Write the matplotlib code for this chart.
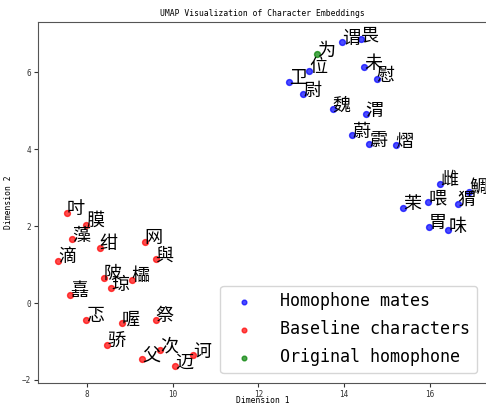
import numpy as np
import matplotlib
matplotlib.use("Agg")
import matplotlib.pyplot as plt

plt.rcParams['font.family'] = ['DejaVu Sans Mono', 'Noto Sans CJK SC']

# homophone mates (blue)
mate_chars = ['谓', '畏', '位', '卫', '尉', '未', '慰', '魏', '渭', '蔚', '霨', '熠',
              '茉', '喂', '雌', '猬', '鯛', '胃', '味']
mate_x = [13.96, 14.39, 13.19, 12.72, 13.05, 14.47, 14.76, 13.73, 14.50, 14.19, 14.58, 15.20,
          15.38, 15.96, 16.23, 16.65, 16.92, 15.98, 16.43]
mate_y = [6.78, 6.88, 6.04, 5.76, 5.43, 6.13, 5.82, 5.04, 4.91, 4.36, 4.13, 4.10,
          2.47, 2.62, 3.10, 2.58, 2.89, 1.98, 1.89]

# baseline characters (red)
base_chars = ['吋', '膜', '藻', '绀', '滴', '网', '與', '陂', '琼', '櫺', '嚞',
              '忑', '喔', '祭', '骄', '父', '次', '迈', '诃']
base_x = [7.53, 7.98, 7.66, 8.30, 7.33, 9.35, 9.60, 8.40, 8.57, 9.05, 7.60,
          7.98, 8.81, 9.60, 8.48, 9.29, 9.70, 10.06, 10.47]
base_y = [2.34, 2.04, 1.66, 1.43, 1.10, 1.60, 1.15, 0.66, 0.38, 0.60, 0.21,
          -0.44, -0.53, -0.44, -1.08, -1.46, -1.23, -1.64, -1.36]

# original homophone (green)
orig_chars = ['为']
orig_x = [13.37]
orig_y = [6.47]

fig = plt.figure(figsize=(4.86, 4.05), dpi=100)
ax = fig.add_axes([38/486, 22/405, 449/486, 361/405])

ax.scatter(mate_x, mate_y, c='blue', alpha=0.7, s=18, label='Homophone mates')
ax.scatter(base_x, base_y, c='red', alpha=0.7, s=18, label='Baseline characters')
ax.scatter(orig_x, orig_y, c='green', alpha=0.7, s=18, label='Original homophone')

for chars, xs, ys in [(mate_chars, mate_x, mate_y), (base_chars, base_x, base_y),
                      (orig_chars, orig_x, orig_y)]:
    for ch, x, y in zip(chars, xs, ys):
        ax.annotate(ch, (x, y), xytext=(0, -1), textcoords='offset points',
                    fontsize=13, fontweight='medium', family=['Noto Sans CJK SC'])

ax.set_xlim(6.86, 17.33)
ax.set_ylim(-2.08, 7.31)
ax.set_xticks([8, 10, 12, 14, 16])
ax.set_yticks([-2, 0, 2, 4, 6])
ax.tick_params(labelsize=5.5, length=3, pad=2, colors='#333333')
for s in ax.spines.values():
    s.set_color('#555555')
ax.set_title('UMAP Visualization of Character Embeddings', fontsize=5.8, pad=4)
ax.set_xlabel('Dimension 1', fontsize=5.8)
ax.xaxis.set_label_coords(0.5, -0.037)
ax.set_ylabel('Dimension 2', fontsize=5.8, labelpad=6)
ax.legend(loc='lower right', fontsize=12, markerscale=0.8, handletextpad=1.2,
          labelspacing=0.6, borderaxespad=0.6)

fig.savefig('out.png', dpi=100)
